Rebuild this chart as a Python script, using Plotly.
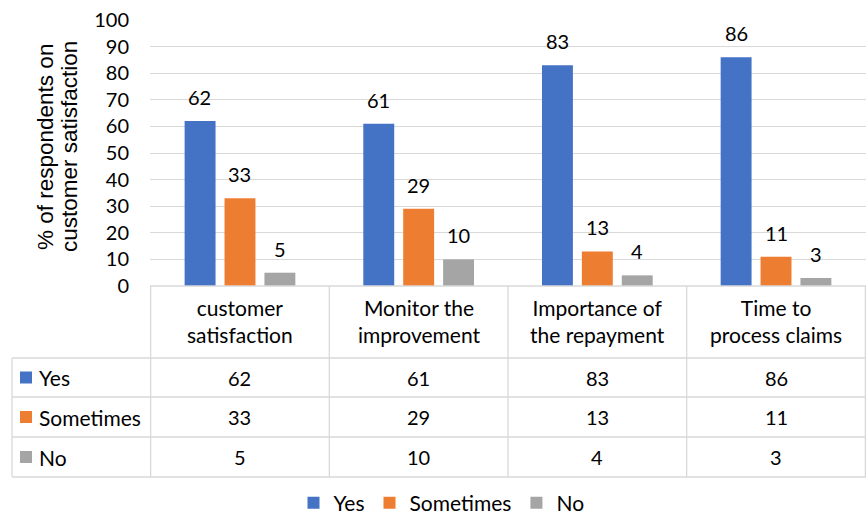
import plotly.graph_objects as go

categories = ["customer<br>satisfaction", "Monitor the<br>improvement", "Importance of<br>the repayment", "Time to<br>process claims"]
series_names = ["Yes", "Sometimes", "No"]
yes_vals = [62, 61, 83, 86]
sometimes_vals = [33, 29, 13, 11]
no_vals = [5, 10, 4, 3]
y_ticks = [0, 10, 20, 30, 40, 50, 60, 70, 80, 90, 100]
y_title_lines = ["% of respondents on", "customer satisfaction"]

colors = ["#4472C4", "#ED7D31", "#A5A5A5"]
series_vals = [yes_vals, sometimes_vals, no_vals]

W, H = 867, 514
FONT = "Lato"
FS_NUM = 20
FS_TXT = 21
GRID = "#D9D9D9"
TXT = "#000000"

def px(x):
    return x / W

def py(y):
    return 1 - y / H

def font(size=FS_NUM, family=FONT):
    return dict(family=family, size=size, color=TXT)

fig = go.Figure()
for name, vals, c in zip(series_names, series_vals, colors):
    fig.add_trace(go.Bar(x=categories, y=vals, name=name, marker_color=c,
                         marker_line_width=0))

shapes = []
annotations = []

# data labels above bars
for j, vals in enumerate(series_vals):
    for cat, v in zip(categories, vals):
        annotations.append(dict(x=cat, y=v, xref="x", yref="y", text=str(v),
                                xanchor="center", yanchor="middle",
                                showarrow=False, xshift=(j - 1) * 40, yshift=24,
                                font=font()))

# table geometry (pixels)
t_top = 286
row_lines = [358, 397, 437, 477]
t_left = 12
plot_left = 150
plot_right = 866

line = dict(color=GRID, width=1.3)
shapes.append(dict(type="line", xref="paper", yref="paper", x0=px(plot_left), x1=px(plot_right),
                   y0=py(t_top), y1=py(t_top), line=line))
for yl in row_lines:
    shapes.append(dict(type="line", xref="paper", yref="paper", x0=px(t_left), x1=px(plot_right),
                       y0=py(yl), y1=py(yl), line=line))
shapes.append(dict(type="line", xref="paper", yref="paper", x0=px(t_left), x1=px(t_left),
                   y0=py(row_lines[0]), y1=py(row_lines[-1]), line=line))
for i in range(len(categories) + 1):
    shapes.append(dict(type="line", xref="x", yref="paper", x0=i - 0.5, x1=i - 0.5,
                       y0=py(t_top), y1=py(row_lines[-1]), line=line))

# header cells
for cat in categories:
    annotations.append(dict(x=cat, y=py((t_top + row_lines[0]) / 2 - 1), xref="x", yref="paper",
                            text=cat, showarrow=False, xanchor="center", yanchor="middle",
                            font=font(FS_TXT)))
# row cells
for r, (name, vals, c) in enumerate(zip(series_names, series_vals, colors)):
    yc = (row_lines[r] + row_lines[r + 1]) / 2
    shapes.append(dict(type="rect", xref="paper", yref="paper", x0=px(20), x1=px(32),
                       y0=py(yc + 6), y1=py(yc - 6), fillcolor=c, line=dict(width=0)))
    annotations.append(dict(x=px(37), y=py(yc), xref="paper", yref="paper", text=name,
                            xanchor="left", yanchor="middle", showarrow=False,
                            font=font(FS_TXT)))
    for cat, v in zip(categories, vals):
        annotations.append(dict(x=cat, y=py(yc), xref="x", yref="paper", text=str(v),
                                xanchor="center", yanchor="middle",
                                showarrow=False, font=font()))

# y title (two lines, rotated)
for k, t in enumerate(y_title_lines):
    annotations.append(dict(x=px(45 + 24 * k), y=py(147), xref="paper", yref="paper", text=t,
                            textangle=-90, showarrow=False, xanchor="center", yanchor="middle",
                            font=font(22.5, "Liberation Sans")))

fig.update_layout(
    width=W, height=H,
    margin=dict(l=0, r=0, t=0, b=0, autoexpand=False),
    paper_bgcolor="white", plot_bgcolor="white",
    barmode="group", bargap=0.33, bargroupgap=0.225,
    font=font(),
    xaxis=dict(domain=[px(plot_left), px(plot_right)], showticklabels=False,
               showgrid=False, zeroline=False, showline=False, ticks=""),
    yaxis=dict(domain=[py(286), py(20)], range=[0, 100], tickvals=y_ticks,
               showgrid=True, gridcolor=GRID, gridwidth=1.3, zeroline=False,
               showline=False, ticks="", ticklabelstandoff=20,
               tickfont=font()),
    legend=dict(orientation="h", x=0.5 + 8 / W, xanchor="center", y=py(503), yanchor="middle",
                font=font(FS_TXT), itemwidth=30, traceorder="normal"),
    shapes=shapes, annotations=annotations,
)

fig.write_html("out.html")
